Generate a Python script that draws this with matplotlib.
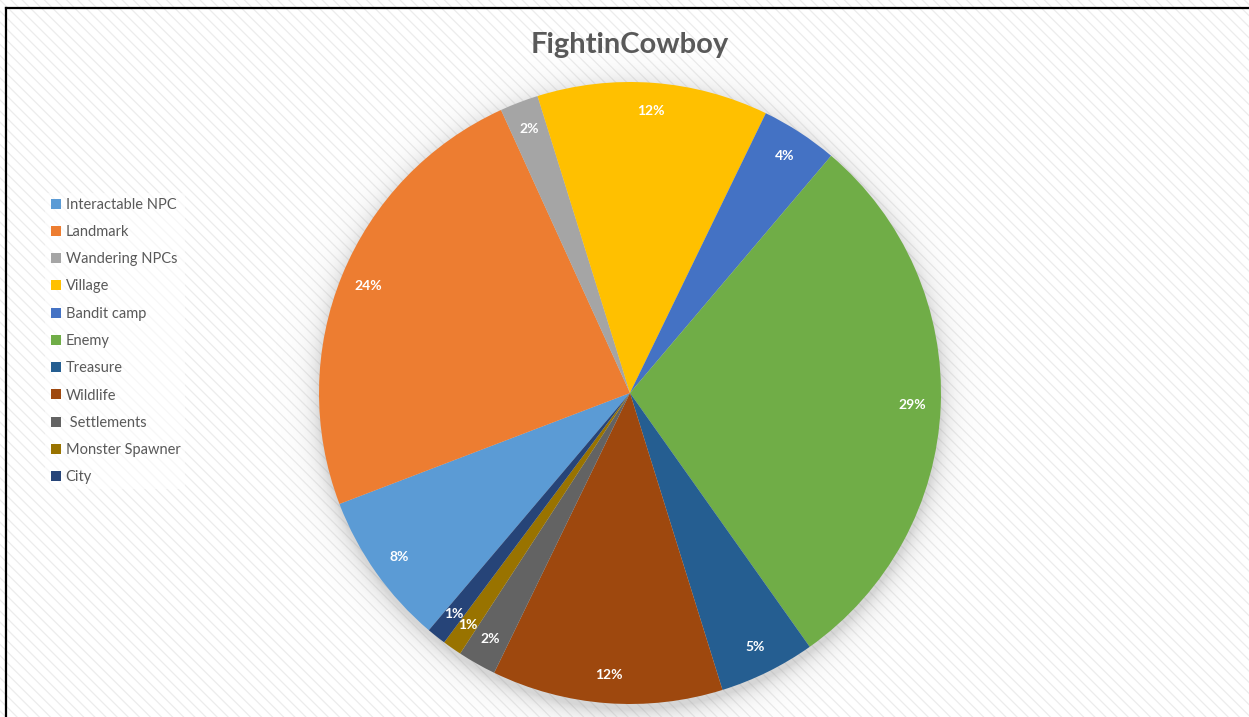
import numpy as np
import matplotlib
matplotlib.use("Agg")
from matplotlib import pyplot as plt
from matplotlib.patches import Rectangle
from matplotlib.lines import Line2D

plt.rcParams['font.family'] = ['Lato', 'DejaVu Sans']
plt.rcParams['hatch.linewidth'] = 0.9
plt.rcParams['hatch.color'] = '#ececec'

categories = ['Interactable NPC', 'Landmark', 'Wandering NPCs', 'Village', 'Bandit camp',
              'Enemy', 'Treasure', 'Wildlife', ' Settlements', 'Monster Spawner', 'City']
shares = [8, 24, 2, 12, 4, 29, 5, 12, 2, 1, 1]
colors = ['#5B9BD5', '#ED7D31', '#A5A5A5', '#FFC000', '#4472C4', '#70AD47',
          '#255E91', '#9E480E', '#636363', '#997300', '#264478']
title = 'FightinCowboy'

W, H = 1249, 717
fig = plt.figure(figsize=(W / 100, H / 100), dpi=100)

# striped backdrop
bg = fig.add_axes([0, 0, 1, 1])
bg.set_xlim(0, 1)
bg.set_ylim(0, 1)
bg.axis('off')
bg.add_patch(Rectangle((0, 0), 1, 1, facecolor='white', edgecolor='#ececec',
                       hatch='\\\\\\', linewidth=0))
bg.add_line(Line2D([6 / W, 1], [1 - 8 / H, 1 - 8 / H], color='black', lw=1.6))
bg.add_line(Line2D([6 / W, 6 / W], [0, 1 - 8 / H], color='black', lw=1.6))

# pie axes, centre (630, 393) px, radius 311 px
cx, cy, r = 630, 393, 311
lim = 1.3
half = lim * r
ax = fig.add_axes([(cx - half) / W, (H - cy - half) / H, 2 * half / W, 2 * half / H])
ax.set_xlim(-lim, lim)
ax.set_ylim(-lim, lim)
ax.axis('off')

# soft shadow under the pie
g = np.linspace(-lim, lim, 600)
xx, yy = np.meshgrid(g, g)
d = np.hypot(xx, yy + 0.02)
alpha = np.where(d > 1, 0.32 * np.exp(-(d - 1) / 0.035), 0.32)
shadow = np.zeros(xx.shape + (4,))
shadow[..., :3] = 0.5
shadow[..., 3] = alpha
ax.imshow(shadow, extent=(-lim, lim, -lim, lim), origin='lower', zorder=0)

wedges, texts, autotexts = ax.pie(
    shares, colors=colors, startangle=-130.3, counterclock=False,
    autopct='%1.0f%%', pctdistance=0.91, radius=1,
    wedgeprops=dict(linewidth=0),
    textprops=dict(color='white', fontsize=10, fontweight='bold'))
for w in wedges:
    w.set_zorder(2)
for t in autotexts:
    t.set_zorder(3)
ax.set_xlim(-lim, lim)
ax.set_ylim(-lim, lim)

fig.text(cx / W, 1 - 45 / H, title, ha='center', va='center', fontsize=21,
         fontweight='bold', color='#595959')

handles = [Line2D([], [], marker='s', linestyle='none', markersize=6.5,
                  markerfacecolor=c, markeredgewidth=0) for c in colors]
leg = fig.legend(handles, categories, loc='upper left',
                 bbox_to_anchor=(38 / W, 1 - 186 / H), frameon=True,
                 fontsize=10.5, labelcolor='#595959', handlelength=0.8,
                 handletextpad=0.3, labelspacing=0.91, borderpad=0.3)
leg.get_frame().set_facecolor('white')
leg.get_frame().set_alpha(0.6)
leg.get_frame().set_linewidth(0)

fig.savefig('out.png', dpi=100)
